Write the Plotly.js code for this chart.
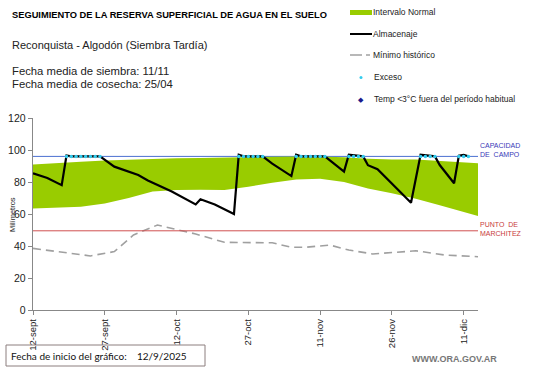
<!DOCTYPE html>
<html><head><meta charset="utf-8">
<script src="https://cdn.plot.ly/plotly-3.0.1.min.js"></script>
<style>html,body{margin:0;padding:0;background:#fff}#c{width:541px;height:368px}</style>
</head><body><div id="c"></div>
<script>
// ---- data ----
const almDates = ['2025-09-12','2025-09-15','2025-09-18','2025-09-19','2025-09-20','2025-09-26','2025-09-29','2025-10-01','2025-10-04','2025-10-06','2025-10-11','2025-10-16','2025-10-17','2025-10-20','2025-10-24','2025-10-25','2025-10-26','2025-10-30','2025-11-01','2025-11-05','2025-11-06','2025-11-07','2025-11-12','2025-11-16','2025-11-17','2025-11-20','2025-11-21','2025-11-23','2025-11-28','2025-11-30','2025-12-02','2025-12-05','2025-12-06','2025-12-09','2025-12-10','2025-12-11','2025-12-12'];
const almValues = [85.4,82.5,78,96.5,96,96,89.6,87.5,84.4,81,74,66,69.2,66,60,97,96,96,91.5,83.7,97,96,96,86.5,97,96,90.5,88,73,67,97,96,90.6,79.2,96.5,97,96];

const bandDates = ['2025-09-12','2025-09-17','2025-09-22','2025-09-27','2025-10-02','2025-10-07','2025-10-12','2025-10-17','2025-10-22','2025-10-27','2025-11-01','2025-11-06','2025-11-11','2025-11-16','2025-11-21','2025-11-26','2025-12-01','2025-12-06','2025-12-11','2025-12-14'];
const bandUpper = [91,92,92.7,93.5,94,94.5,94.8,95,95.3,95.8,96,96,96,95.5,94.5,94,94,93,92,91.7];
const bandLower = [63.5,64,64.6,66.5,70,74,75,75.2,75,77,79.5,81.5,82,80,76,73,69.5,65.5,61.5,58.7];

const minDates = ['2025-09-12','2025-09-24','2025-09-29','2025-10-03','2025-10-08','2025-10-16','2025-10-22','2025-11-01','2025-11-05','2025-11-08','2025-11-13','2025-11-17','2025-11-22','2025-12-01','2025-12-07','2025-12-14'];
const minValues = [38.5,33.8,36.5,46.9,53.1,47.5,42.3,42,39.2,39.2,40.6,37.5,35,37,34.4,33.3];

const excesoDates = ['2025-09-19','2025-09-20','2025-09-21','2025-09-22','2025-09-23','2025-09-24','2025-09-25','2025-09-26','2025-10-25','2025-10-26','2025-10-27','2025-10-28','2025-10-29','2025-10-30','2025-11-06','2025-11-07','2025-11-08','2025-11-09','2025-11-10','2025-11-11','2025-11-12','2025-11-17','2025-11-18','2025-11-19','2025-11-20','2025-12-02','2025-12-03','2025-12-04','2025-12-05','2025-12-10','2025-12-11','2025-12-12'];
const excesoValues = excesoDates.map(() => 96);

const capacidadCampo = 96;
const puntoMarchitez = 49.5;

const tickDates = ['2025-09-12','2025-09-27','2025-10-12','2025-10-27','2025-11-11','2025-11-26','2025-12-11'];
const tickLabels = ['12-sept','27-sept','12-oct','27-oct','11-nov','26-nov','11-dic'];
const xRange = ['2025-09-12','2025-12-14'];

// ---- layout helpers (pixel -> paper) ----
const W = 541, H = 368, L = 33, R = 63, T = 118, B = 58;
const pw = W - L - R, ph = H - T - B;
const px = x => (x - L) / pw;
const py = y => (H - B - y) / ph;
const F = 'Liberation Sans, Arial, sans-serif';

const traces = [
  {x: bandDates, y: bandLower, type: 'scatter', mode: 'lines', line: {width: 0, color: '#99cc00'}, hoverinfo: 'skip', showlegend: false},
  {x: bandDates, y: bandUpper, type: 'scatter', mode: 'lines', fill: 'tonexty', fillcolor: '#99cc00', line: {width: 0, color: '#99cc00'}, name: 'Intervalo Normal', showlegend: false},
  {x: minDates, y: minValues, type: 'scatter', mode: 'lines', line: {color: '#a0a0a0', width: 1.6, dash: '8px,5px'}, name: 'Mínimo histórico', showlegend: false},
  {x: almDates, y: almValues, type: 'scatter', mode: 'lines', line: {color: '#000000', width: 2.2}, name: 'Almacenaje', showlegend: false},
  {x: excesoDates, y: excesoValues, type: 'scatter', mode: 'markers', marker: {color: '#33ccee', size: 3.5}, name: 'Exceso', showlegend: false}
];

const shapes = [
  {type: 'line', xref: 'paper', yref: 'y', x0: 0, x1: 1, y0: capacidadCampo, y1: capacidadCampo, line: {color: '#4a6fd0', width: 1}, layer: 'below'},
  {type: 'line', xref: 'paper', yref: 'y', x0: 0, x1: 1, y0: puntoMarchitez, y1: puntoMarchitez, line: {color: '#d05050', width: 1}},
  // legend symbols
  {type: 'rect', xref: 'paper', yref: 'paper', x0: px(350), x1: px(372), y0: py(15), y1: py(10), fillcolor: '#99cc00', line: {width: 0}},
  {type: 'line', xref: 'paper', yref: 'paper', x0: px(350), x1: px(372), y0: py(34), y1: py(34), line: {color: '#000', width: 2}},
  {type: 'line', xref: 'paper', yref: 'paper', x0: px(350), x1: px(362), y0: py(55), y1: py(55), line: {color: '#a0a0a0', width: 1.5}},
  {type: 'line', xref: 'paper', yref: 'paper', x0: px(366), x1: px(370), y0: py(55), y1: py(55), line: {color: '#a0a0a0', width: 1.5}},
  {type: 'circle', xref: 'paper', yref: 'paper', x0: px(359.5), x1: px(362.5), y0: py(79), y1: py(76), fillcolor: '#33ccee', line: {width: 0}},
  // date box
  {type: 'rect', xref: 'paper', yref: 'paper', x0: px(6), x1: px(205), y0: py(366), y1: py(345), line: {color: '#8c7f7f', width: 1}, fillcolor: 'rgba(0,0,0,0)'}
];

const ann = (x, y, text, size, color, extra) => Object.assign({xref: 'paper', yref: 'paper', x: px(x), y: py(y), text, showarrow: false, xanchor: 'left', yanchor: 'middle', borderpad: 0, font: {family: F, size, color}}, extra || {});

const annotations = [
  ann(11, 15, '<b>SEGUIMIENTO DE LA RESERVA SUPERFICIAL DE AGUA EN EL SUELO</b>', 9.3, '#000'),
  ann(11, 45, 'Reconquista - Algodón (Siembra Tardía)', 11, '#222'),
  ann(11, 71, 'Fecha media de siembra: 11/11', 11.3, '#222'),
  ann(11, 84, 'Fecha media de cosecha: 25/04', 11.3, '#222'),
  ann(372, 12, 'Intervalo Normal', 8.5, '#222'),
  ann(372, 34, 'Almacenaje', 8.5, '#222'),
  ann(372, 55, 'Mínimo histórico', 8.5, '#222'),
  ann(373, 77, 'Exceso', 8.5, '#222'),
  ann(361, 99.5, '◆', 6.5, '#1a1a8c', {xanchor: 'center'}),
  ann(373, 99, 'Temp &lt;3°C fuera del período habitual', 8.5, '#222'),
  ann(479, 145, 'CAPACIDAD', 7, '#3a3ab8'),
  ann(479, 154, 'DE  CAMPO', 7, '#3a3ab8'),
  ann(479, 224, 'PUNTO  DE', 7, '#c83c3c'),
  ann(479, 233, 'MARCHITEZ', 7, '#c83c3c'),
  ann(12, 215, 'Milímetros', 7.5, '#222', {xanchor: 'center', textangle: -90}),
  ann(10, 356, 'Fecha de inicio del gráfico:&nbsp;&nbsp;&nbsp;&nbsp;12/9/2025', 10, '#111', {font: {family: 'Lato, Open Sans, sans-serif', size: 10, color: '#111'}}),
  ann(411, 359, '<b>WWW.ORA.GOV.AR</b>', 9, '#777')
];

const layout = {
  width: W, height: H,
  margin: {l: L, r: R, t: T, b: B, pad: 0},
  paper_bgcolor: '#fff', plot_bgcolor: '#fff',
  showlegend: false,
  xaxis: {
    type: 'date', range: xRange, tickmode: 'array', tickvals: tickDates, ticktext: tickLabels,
    tickangle: -90, ticks: 'outside', ticklen: 4, tickcolor: '#888', showgrid: false, zeroline: false,
    showline: true, linecolor: '#888', linewidth: 1.3, tickfont: {family: F, size: 9.5, color: '#222'}
  },
  yaxis: {
    range: [0, 120], tickvals: [0, 20, 40, 60, 80, 100, 120], ticks: 'outside', ticklen: 4, tickcolor: '#888',
    showgrid: false, zeroline: false, showline: true, linecolor: '#888', linewidth: 1.3,
    tickfont: {family: F, size: 10.5, color: '#222'}
  },
  shapes, annotations
};

Plotly.newPlot('c', traces, layout, {staticPlot: true, displayModeBar: false});
</script></body></html>
